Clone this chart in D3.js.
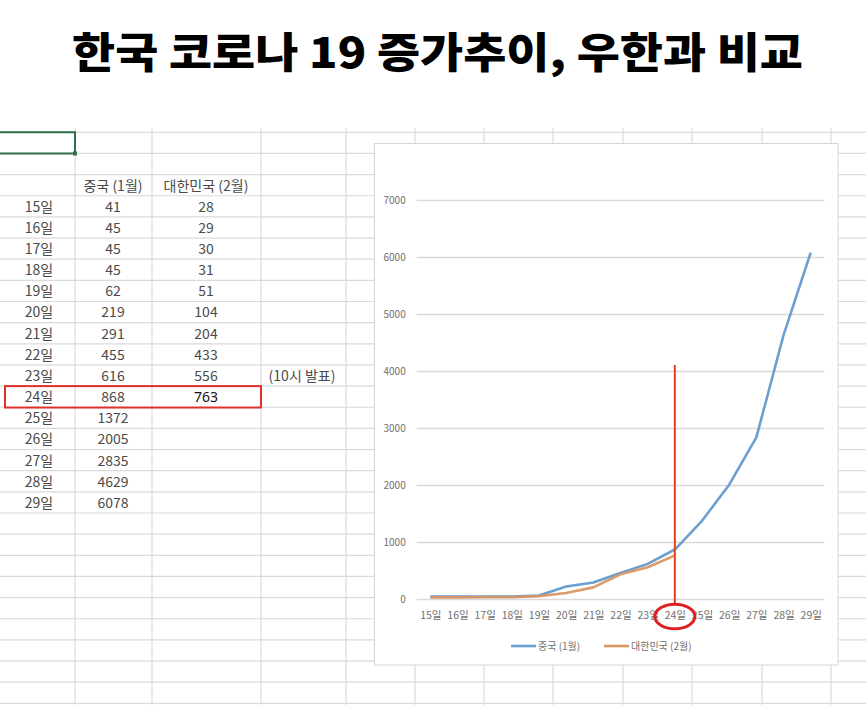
<!DOCTYPE html>
<html><head><meta charset="utf-8">
<script src="https://cdn.jsdelivr.net/npm/d3@7"></script>
<style>
html,body{margin:0;padding:0;background:#fff;}
svg{display:block;}
</style></head>
<body>
<svg id="c" width="866" height="705"></svg>
<script>
const title = "한국 코로나 19 증가추이, 우한과 비교";
const days = ["15일","16일","17일","18일","19일","20일","21일","22일","23일","24일","25일","26일","27일","28일","29일"];
const china = [41,45,45,45,62,219,291,455,616,868,1372,2005,2835,4629,6078];
const korea = [28,29,30,31,51,104,204,433,556,763];
const seriesNames = ["중국 (1월)","대한민국 (2월)"];
const yTicks = [0,1000,2000,3000,4000,5000,6000,7000];
const note = "(10시 발표)";
const highlightDay = "24일";

const svg = d3.select("#c");
const KR = "'Noto Sans CJK KR','Noto Sans',sans-serif";

// title
svg.append("text").attr("x",72).attr("y",68)
  .attr("font-family",KR).attr("font-weight",900).attr("font-size",42)
  .attr("textLength",731).attr("lengthAdjust","spacingAndGlyphs")
  .attr("fill","#000").text(title);

// spreadsheet grid
const gridColor = "#dadada";
const rowTop = 132.3, rowH = 21.15;
const rowLines = d3.range(0, 28).map(i => rowTop + i*rowH).filter(y => y < 706);
svg.append("g").selectAll("line").data(rowLines).join("line")
  .attr("x1",0).attr("x2",866).attr("y1",d=>d).attr("y2",d=>d)
  .attr("stroke",gridColor).attr("stroke-width",1.2);
const colLines = [75,152,261,346,415,484,553,623,692,762,831];
svg.append("g").selectAll("line").data(colLines).join("line")
  .attr("x1",d=>d).attr("x2",d=>d).attr("y1",128).attr("y2",705)
  .attr("stroke",gridColor).attr("stroke-width",1.2);

// selected cell (green)
svg.append("path").attr("d","M0,132.3H75V153.5H0").attr("fill","none")
  .attr("stroke","#2f6f4a").attr("stroke-width",2);
svg.append("rect").attr("x",73).attr("y",151.5).attr("width",4).attr("height",4).attr("fill","#2f6f4a");

// table
const rowCenter = i => rowTop + (i+3)*rowH + rowH/2 + 0.5;
const tbl = svg.append("g").attr("font-family",KR).attr("font-size",14).attr("fill","#4a4a4a");
tbl.append("text").attr("x",113).attr("y",rowCenter(-1)).attr("dy","0.35em").attr("text-anchor","middle").text(seriesNames[0]);
tbl.append("text").attr("x",206).attr("y",rowCenter(-1)).attr("dy","0.35em").attr("text-anchor","middle").text(seriesNames[1]);
days.forEach((d,i)=>{
  tbl.append("text").attr("x",39).attr("y",rowCenter(i)).attr("dy","0.35em").attr("text-anchor","middle").text(d);
  tbl.append("text").attr("x",113).attr("y",rowCenter(i)).attr("dy","0.35em").attr("text-anchor","middle").text(china[i]);
  if (i < korea.length) {
    const isHi = d === highlightDay;
    tbl.append("text").attr("x",206).attr("y",rowCenter(i)).attr("dy","0.35em").attr("text-anchor","middle")
      .attr("fill", isHi ? "#111" : "#4a4a4a").attr("font-family", isHi ? "'Noto Sans',sans-serif" : KR)
      .attr("font-size", 14).text(korea[i]);
  }
});
tbl.append("text").attr("x",302).attr("y",rowCenter(8)).attr("dy","0.35em").attr("text-anchor","middle").text(note);
const hiIdx = days.indexOf(highlightDay);
svg.append("rect").attr("x",5).attr("y",rowTop+(hiIdx+3)*rowH).attr("width",256).attr("height",rowH+0.3)
  .attr("fill","none").attr("stroke","#e0302a").attr("stroke-width",2);

// chart box
svg.append("rect").attr("x",374.5).attr("y",143.5).attr("width",463.5).attr("height",521.5)
  .attr("fill","#fff").attr("stroke","#d6d6d6").attr("stroke-width",1);

const x = d3.scalePoint().domain(days).range([416.7,824.3]).padding(0.5);
const y = d3.scaleLinear().domain([0,7000]).range([599,200]);

const yAxis = svg.append("g").attr("transform","translate(416.7,0)")
  .call(d3.axisLeft(y).tickValues(yTicks).tickSize(-407.6).tickPadding(11).tickFormat(d3.format("d")));
yAxis.select(".domain").remove();
yAxis.selectAll(".tick line").attr("stroke","#d9d9d9").attr("stroke-width",1.3);
yAxis.selectAll(".tick text").attr("fill","#6f6f6f").attr("font-size",10).attr("font-family",KR);

const xAxis = svg.append("g").attr("transform","translate(0,599)")
  .call(d3.axisBottom(x).tickSize(0).tickPadding(13));
xAxis.select(".domain").remove();
xAxis.selectAll(".tick text").attr("fill","#6f6f6f").attr("font-size",10.5).attr("font-family",KR);

const line = d3.line().x((d,i)=>x(days[i])).y(d=>y(d));
svg.append("path").datum(china).attr("d",line).attr("fill","none")
  .attr("stroke","#6b9fd0").attr("stroke-width",2.6).attr("stroke-linejoin","round");
svg.append("path").datum(korea).attr("d",line).attr("fill","none")
  .attr("stroke","#d99460").attr("stroke-width",2.6).attr("stroke-linejoin","round").attr("opacity",0.92);

// legend
const lg = svg.append("g").attr("font-family",KR).attr("font-size",10).attr("fill","#6f6f6f");
lg.append("line").attr("x1",511).attr("x2",536).attr("y1",646).attr("y2",646).attr("stroke","#6b9fd0").attr("stroke-width",2.6);
lg.append("text").attr("x",538).attr("y",646).attr("dy","0.35em").text(seriesNames[0]);
lg.append("line").attr("x1",604).attr("x2",629).attr("y1",646).attr("y2",646).attr("stroke","#d99460").attr("stroke-width",2.6);
lg.append("text").attr("x",631).attr("y",646).attr("dy","0.35em").text(seriesNames[1]);

// red annotation
const hx = x(highlightDay);
svg.append("line").attr("x1",hx).attr("x2",hx).attr("y1",365).attr("y2",604)
  .attr("stroke","#e8401c").attr("stroke-width",2);
svg.append("ellipse").attr("cx",hx).attr("cy",616.5).attr("rx",20).attr("ry",12.3)
  .attr("fill","none").attr("stroke","#e02020").attr("stroke-width",3);
</script>
</body></html>
